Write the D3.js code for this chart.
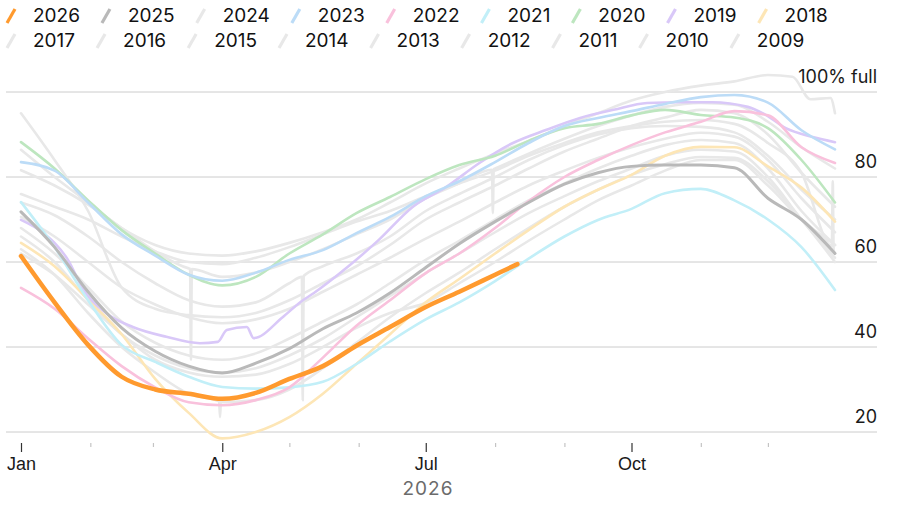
<!DOCTYPE html>
<html>
<head>
<meta charset="utf-8">
<script src="https://cdn.jsdelivr.net/npm/d3@7"></script>
<style>
  html, body { margin: 0; padding: 0; background: #fff; }
  svg { display: block; font-family: Inter, "Liberation Sans", Arial, sans-serif; }
</style>
</head>
<body>
<svg id="chart" width="900" height="506"></svg>
<script>
// ---------- DATA ----------
const years = ["2026","2025","2024","2023","2022","2021","2020","2019","2018",
               "2017","2016","2015","2014","2013","2012","2011","2010","2009"];
// day of year of each sample
const days = [0,15,30,45,60,75,90,105,120,135,150,165,181,196,212,227,243,258,273,288,304,319,334,349,364];
const days2026 = [0,15,30,45,60,75,90,105,120,135,150,165,181,196,212,222];
const days2010 = [0,15,30,45,60,75,90,105,120,135,150,165,181,196,212,227,243,258,273,288,304,319,334,345,353,362,364];
const days2019 = [0,10,21,28,38,50,65,80,88,92,101,104,117,125,131,146,160,175,190,205,220,235,250,265,280,295,309,325,333,342,354,364];

const v2026 = [61.4,50.5,40.5,33,30,29,27.8,29.2,32.5,35.5,40.3,44.7,49.4,53,57,59.5];
const v2025 = [71.8,63.5,53,44.5,39,35.5,33.9,36.2,39.6,44.3,48,52.7,58.7,64.3,69.5,74,78.3,81,82.5,82.8,82.8,82.2,75,70,62];
const v2024 = [62,57,50,43,37,34,33,33.5,36,40,44.5,48,50.4,55,60,65,70,74.5,78,81.5,84,84,78,70,64];
const v2023 = [83.5,81.5,74,66.5,61.5,57,55.6,57.5,60.5,62.8,66.8,70.6,75.5,79,83.5,88,92,93.9,95.5,97.2,98.8,99.3,97.5,91,86.5];
const v2022 = [53.9,49,42,35.5,30.5,27,26.3,27.5,30.5,37.5,45,51,57.4,62,68,74.3,80,84,87.5,90.5,93,95.5,94.5,87,83.3];
const v2021 = [74.1,63.5,51,40.5,36.5,33,30.6,30.2,30.5,31.8,36,41.3,46.5,50.5,55.5,60.8,66,69.9,72.5,76.2,77.2,74.5,70,63.5,53.4];
const v2020 = [88.2,82,74.5,67.5,62,57,54.5,56.5,62,66.5,71.5,75.3,79.5,82.8,85,88.5,91.5,92.5,94.5,95.8,94.6,94,91.5,84,74];
const v2019 = [69.9,66.8,60.5,53.4,48,44.7,42.4,40.9,41.2,44,44.7,42.1,47,50.6,52.7,58.8,65.2,72.9,77.6,83.3,88,91.1,93.9,95.8,97.4,97.6,97.6,96.5,94.6,91.5,89.4,88.2];
const v2018 = [64.5,59,51.2,43,32.5,24.5,18.5,20,23.5,29,36,43,50.5,56,62,67.5,73,77,80.5,85,87.1,87,82.5,77.5,69.5];
const v2017 = [76,73,70,66,62.5,60,59.5,61,63.5,66.5,69.5,72,75.5,78.5,81.5,85,88,90.5,92,93,93.4,92.5,88,81,62];
const v2016 = [63,57,48,40,34,29,27,27.5,30,35,41,47,52.7,57.5,63,68,73,77,80.5,83,84.7,84.5,79,70,60];
const v2015 = [66,60,51,43,38,35,34,35,38,42,47,52,57.4,62,67,71.5,75.5,79,82,85,86.4,86,80,70,61];
const v2014 = [68,62,54,46,41,38,37,38.5,42,46,50,55,60.5,65,70,74.5,78.5,82,85,87.5,88.7,88,82,72,64];
const v2013 = [70.6,66,60,54,50,47,45.6,46.5,49,53,57,61,65.5,69.5,74,78,81.5,84.5,87,89,90.4,89.5,84,75,67];
const v2012 = [74,71,66,60,55,51,49.5,50.5,55,59,62,66,72,76,80,84,87.5,90,91.5,92,91.8,90.5,85,77,70];
const v2011 = [81.6,78,73.5,68,62.5,58.5,56.5,57.5,60,63,66.5,70,75,78.5,82,85.5,89,92,94.5,96.5,97.4,97,93,87,82];
const v2010 = [86.4,80,74,68,64,62,61.5,62.5,64.5,67,70,74,78.5,82,85.5,88.5,92,95,98,100,101.5,102.5,104,103.6,98.3,98.6,95];
const v2009 = [95,84,72,54,49,47.5,47,48,51,55,59,64,70,74,78,82,86,89,92,94,95.8,95,90,81,73];

// one-day data glitches visible in the source: [year, day, value]
const glitches = [["2011",76,37],["2012",126,27.5],["2016",89,23.5],["2011",211,71.5],["2017",363,79]];

const yTicks = [20,40,60,80,100];
const monthLabels = {0:"Jan",3:"Apr",6:"Jul",9:"Oct"};
const xTitle = "2026";

const colors = {
  "2026":"#ff9a2e","2025":"#b9b9b9","2023":"#bcdcf7","2022":"#f9c1dc",
  "2021":"#c2eff8","2020":"#bde6bf","2019":"#d9c8f8","2018":"#fde6b6"
};
const grayColor = "#e8e8e8";

// ---------- BUILD ----------
const valuesByYear = {"2026":v2026,"2025":v2025,"2024":v2024,"2023":v2023,"2022":v2022,"2021":v2021,
  "2020":v2020,"2019":v2019,"2018":v2018,"2017":v2017,"2016":v2016,"2015":v2015,"2014":v2014,
  "2013":v2013,"2012":v2012,"2011":v2011,"2010":v2010,"2009":v2009};
const daysByYear = {"2026":days2026,"2010":days2010,"2019":days2019};

function seriesFor(y) {
  const ds = daysByYear[y] || days;
  let pts = valuesByYear[y].map((v,i) => ({d: ds[i], v}));
  const interp = d => {
    for (let i = 0; i < pts.length - 1; i++) {
      if (pts[i].d <= d && pts[i+1].d >= d) {
        const t = (d - pts[i].d) / (pts[i+1].d - pts[i].d);
        return pts[i].v + t * (pts[i+1].v - pts[i].v);
      }
    }
    return pts[pts.length-1].v;
  };
  glitches.filter(g => g[0] === y).forEach(g => {
    const day = g[1];
    const a = day - 0.4, b = Math.min(day + 0.4, 364);
    const va = interp(a), vb = interp(b);
    pts.push({d: a, v: va}, {d: day, v: g[2]}, {d: b, v: vb});
    pts.sort((p,q) => p.d - q.d);
  });
  return pts;
}

const svg = d3.select("#chart");
const start = new Date(2026,0,1);
const x = d3.scaleTime().domain([start, new Date(2026,11,31)]).range([21,835]);
const y = d3.scaleLinear().domain([20,100]).range([432,92]);
const toDate = d => new Date(start.getTime() + d*86400000);

// gridlines
const grid = svg.append("g");
grid.selectAll("line").data(yTicks).join("line")
  .attr("x1",6).attr("x2",877).attr("y1",d=>y(d)).attr("y2",d=>y(d))
  .attr("stroke","#cccccc").attr("stroke-width",1);

// x axis
const xAxis = d3.axisBottom(x).ticks(d3.timeMonth.every(1)).tickSize(0).tickFormat("");
const ax = svg.append("g").attr("transform","translate(0,441)").call(xAxis);
ax.select(".domain").remove();
ax.selectAll(".tick").each(function(d){
  const m = d.getMonth();
  const major = monthLabels[m] !== undefined;
  d3.select(this).select("line")
    .attr("y1", 2).attr("y2", major ? 11 : 6)
    .attr("stroke", major ? "#333" : "#c4c4c4").attr("stroke-width",1.2);
  d3.select(this).select("text").remove();
  if (major) {
    d3.select(this).append("text").attr("y",29).attr("text-anchor","middle")
      .attr("font-size",18).attr("fill","#1a1a1a").text(monthLabels[m]);
  }
});
svg.append("text").attr("x",428).attr("y",495).attr("text-anchor","middle")
  .attr("font-size",19).attr("fill","#6b6b6b").attr("letter-spacing",1).text(xTitle);

// lines
const line = d3.line().x(p => x(toDate(p.d))).y(p => y(p.v)).curve(d3.curveMonotoneX);
const drawOrder = ["2009","2010","2011","2012","2013","2014","2015","2016","2017","2024",
                   "2018","2019","2020","2021","2022","2023","2025","2026"];
const gLines = svg.append("g").attr("fill","none").attr("stroke-linejoin","round").attr("stroke-linecap","round");
drawOrder.forEach(yr => {
  const col = colors[yr] || grayColor;
  gLines.append("path").datum(seriesFor(yr))
    .attr("d", line)
    .attr("stroke", col)
    .attr("stroke-width", yr === "2026" ? 4.5 : (yr === "2025" ? 3 : 2.6));
});

// y labels on top
svg.append("g").selectAll("text").data(yTicks).join("text")
  .attr("x",877).attr("y",d=>y(d)-9).attr("text-anchor","end")
  .attr("font-size",18).attr("fill","#1a1a1a")
  .text(d => d === 100 ? "100% full" : d);

// legend (flow layout, two rows)
const rows = [years.slice(0,9), years.slice(9)];
const rowBase = [22, 47];
const leg = svg.append("g");
rows.forEach((row, ri) => {
  let cx = 33;
  row.forEach(yr => {
    const col = colors[yr] || grayColor;
    const base = rowBase[ri];
    leg.append("line").attr("x1",cx-26).attr("y1",base+1).attr("x2",cx-18).attr("y2",base-13)
      .attr("stroke",col).attr("stroke-width",3.2);
    const t = leg.append("text").attr("x",cx).attr("y",base).attr("font-size",19).attr("fill","#111").text(yr);
    cx += t.node().getComputedTextLength() + 48;
  });
});
</script>
</body>
</html>
